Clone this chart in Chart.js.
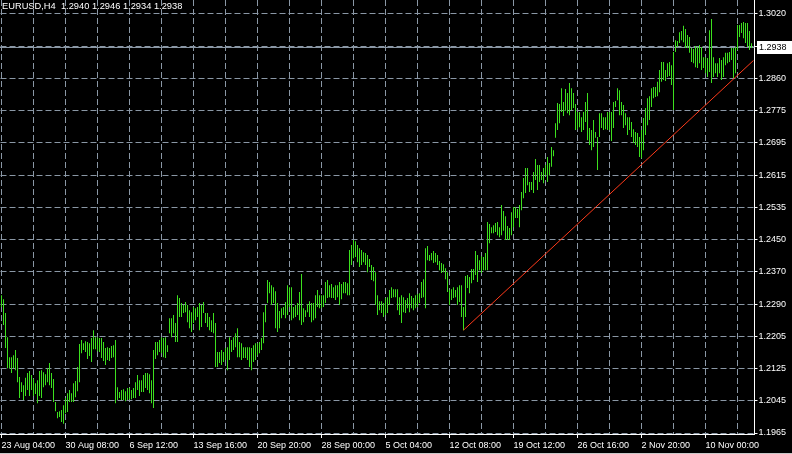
<!DOCTYPE html>
<html>
<head>
<meta charset="utf-8">
<script src="https://cdn.jsdelivr.net/npm/chart.js@4.4.1/dist/chart.umd.min.js"></script>
<style>
  html, body { margin: 0; padding: 0; background: #000; }
  #wrap { position: relative; width: 792px; height: 454px; overflow: hidden; background: #000; }
  #title { position: absolute; left: 2px; top: 0; color: #fff; font: 9.3px 'Liberation Sans', Arial, sans-serif; line-height: 12px; white-space: pre; }
  #edge { position: absolute; left: 0; top: 453px; width: 792px; height: 1px; background: #c8c8c8; }
</style>
</head>
<body>
<div id="wrap">
  <canvas id="chart" width="792" height="454"></canvas>
  <div id="title"></div>
  <div id="edge"></div>
</div>
<script>
// EURUSD H4 bars
const symbol = 'EURUSD,H4';
const lastQuote = [1.2940, 1.2946, 1.2934, 1.2938]; // open, high, low, close

const xTickLabels = ['23 Aug 04:00', '30 Aug 08:00', '6 Sep 12:00', '13 Sep 16:00', '20 Sep 20:00', '28 Sep 00:00',
                     '5 Oct 04:00', '12 Oct 08:00', '19 Oct 12:00', '26 Oct 16:00', '2 Nov 20:00', '10 Nov 00:00'];
const barsPerLabel = 32;
const barsPerGrid = 16;

const yTickLabels = ['1.1965', '1.2045', '1.2125', '1.2205', '1.2290', '1.2370', '1.2450',
                     '1.2535', '1.2615', '1.2695', '1.2775', '1.2860', '1.2940', '1.3020'];
const priceBottom = 1.19625;
const priceTop = 1.30551;

const barHigh = [
  1.2312, 1.2302, 1.2267, 1.2206, 1.2156, 1.2156, 1.2161, 1.2174, 1.2154, 1.2106, 1.2093, 1.2085, 1.2104, 1.2116, 1.2121, 1.2111,
  1.2101, 1.2090, 1.2098, 1.2121, 1.2123, 1.2118, 1.2113, 1.2128, 1.2141, 1.2116, 1.2101, 1.2043, 1.2018, 1.2020, 1.2023, 1.2035,
  1.2053, 1.2065, 1.2073, 1.2065, 1.2090, 1.2096, 1.2131, 1.2189, 1.2199, 1.2191, 1.2196, 1.2194, 1.2191, 1.2204, 1.2224, 1.2206,
  1.2206, 1.2204, 1.2204, 1.2194, 1.2179, 1.2181, 1.2179, 1.2184, 1.2186, 1.2199, 1.2080, 1.2068, 1.2073, 1.2075, 1.2070, 1.2078,
  1.2078, 1.2073, 1.2078, 1.2093, 1.2111, 1.2098, 1.2098, 1.2111, 1.2116, 1.2116, 1.2113, 1.2098, 1.2174, 1.2194, 1.2194, 1.2199,
  1.2206, 1.2204, 1.2206, 1.2186, 1.2254, 1.2254, 1.2262, 1.2242, 1.2312, 1.2305, 1.2292, 1.2287, 1.2295, 1.2287, 1.2274, 1.2269,
  1.2282, 1.2279, 1.2282, 1.2292, 1.2287, 1.2295, 1.2267, 1.2267, 1.2257, 1.2249, 1.2267, 1.2242, 1.2169, 1.2169, 1.2174, 1.2169,
  1.2179, 1.2181, 1.2206, 1.2199, 1.2206, 1.2216, 1.2229, 1.2194, 1.2191, 1.2181, 1.2181, 1.2181, 1.2181, 1.2179, 1.2186, 1.2191,
  1.2191, 1.2194, 1.2204, 1.2269, 1.2287, 1.2350, 1.2345, 1.2337, 1.2332, 1.2322, 1.2292, 1.2272, 1.2279, 1.2282, 1.2295, 1.2337,
  1.2332, 1.2332, 1.2282, 1.2287, 1.2292, 1.2320, 1.2365, 1.2279, 1.2274, 1.2290, 1.2297, 1.2292, 1.2292, 1.2312, 1.2325, 1.2312,
  1.2312, 1.2312, 1.2345, 1.2350, 1.2337, 1.2340, 1.2332, 1.2337, 1.2337, 1.2345, 1.2340, 1.2345, 1.2345, 1.2342, 1.2426, 1.2438,
  1.2451, 1.2448, 1.2438, 1.2430, 1.2426, 1.2420, 1.2418, 1.2413, 1.2403, 1.2388, 1.2383, 1.2370, 1.2312, 1.2297, 1.2297, 1.2292,
  1.2305, 1.2307, 1.2325, 1.2332, 1.2327, 1.2327, 1.2327, 1.2307, 1.2312, 1.2307, 1.2300, 1.2305, 1.2317, 1.2310, 1.2305, 1.2312,
  1.2315, 1.2317, 1.2345, 1.2352, 1.2430, 1.2436, 1.2413, 1.2418, 1.2423, 1.2418, 1.2413, 1.2398, 1.2393, 1.2390, 1.2380, 1.2370,
  1.2325, 1.2327, 1.2332, 1.2325, 1.2332, 1.2337, 1.2337, 1.2282, 1.2360, 1.2363, 1.2358, 1.2378, 1.2378, 1.2423, 1.2413, 1.2400,
  1.2410, 1.2408, 1.2418, 1.2496, 1.2491, 1.2483, 1.2488, 1.2494, 1.2496, 1.2483, 1.2539, 1.2524, 1.2511, 1.2486, 1.2481, 1.2521,
  1.2534, 1.2534, 1.2529, 1.2539, 1.2572, 1.2607, 1.2632, 1.2632, 1.2597, 1.2597, 1.2622, 1.2655, 1.2640, 1.2640, 1.2622, 1.2632,
  1.2640, 1.2660, 1.2645, 1.2685, 1.2677, 1.2745, 1.2796, 1.2793, 1.2833, 1.2798, 1.2831, 1.2821, 1.2846, 1.2833, 1.2821, 1.2793,
  1.2773, 1.2773, 1.2760, 1.2773, 1.2798, 1.2821, 1.2733, 1.2728, 1.2753, 1.2723, 1.2710, 1.2770, 1.2770, 1.2760, 1.2760, 1.2773,
  1.2773, 1.2773, 1.2798, 1.2801, 1.2833, 1.2828, 1.2798, 1.2791, 1.2770, 1.2760, 1.2760, 1.2748, 1.2730, 1.2723, 1.2720, 1.2710,
  1.2728, 1.2758, 1.2783, 1.2808, 1.2813, 1.2833, 1.2836, 1.2836, 1.2849, 1.2879, 1.2899, 1.2899, 1.2879, 1.2896, 1.2899, 1.2891,
  1.2924, 1.2954, 1.2952, 1.2974, 1.2977, 1.2990, 1.2982, 1.2967, 1.2962, 1.2934, 1.2932, 1.2939, 1.2937, 1.2942, 1.2937, 1.2911,
  1.2911, 1.2909, 1.2979, 1.3007, 1.2911, 1.2896, 1.2896, 1.2909, 1.2904, 1.2911, 1.2922, 1.2922, 1.2924, 1.2934, 1.2934, 1.2937,
  1.2992, 1.2992, 1.2997, 1.3000, 1.2997, 1.2997, 1.2977, 1.2946
];

const barLow = [
  1.2282, 1.2237, 1.2179, 1.2128, 1.2128, 1.2116, 1.2128, 1.2123, 1.2093, 1.2053, 1.2068, 1.2048, 1.2058, 1.2073, 1.2058, 1.2073,
  1.2058, 1.2063, 1.2040, 1.2058, 1.2053, 1.2080, 1.2085, 1.2093, 1.2085, 1.2078, 1.2043, 1.2020, 1.2002, 1.2005, 1.1993, 1.1988,
  1.2015, 1.2018, 1.2043, 1.2043, 1.2043, 1.2055, 1.2070, 1.2093, 1.2166, 1.2174, 1.2169, 1.2151, 1.2159, 1.2144, 1.2176, 1.2176,
  1.2171, 1.2169, 1.2154, 1.2146, 1.2136, 1.2149, 1.2146, 1.2154, 1.2156, 1.2040, 1.2048, 1.2053, 1.2048, 1.2048, 1.2045, 1.2048,
  1.2050, 1.2050, 1.2053, 1.2053, 1.2073, 1.2058, 1.2068, 1.2068, 1.2078, 1.2073, 1.2065, 1.2040, 1.2028, 1.2151, 1.2161, 1.2169,
  1.2166, 1.2156, 1.2154, 1.2169, 1.2216, 1.2206, 1.2216, 1.2194, 1.2194, 1.2257, 1.2257, 1.2267, 1.2269, 1.2244, 1.2229, 1.2219,
  1.2242, 1.2249, 1.2257, 1.2224, 1.2232, 1.2267, 1.2242, 1.2232, 1.2224, 1.2219, 1.2216, 1.2131, 1.2131, 1.2141, 1.2136, 1.2144,
  1.2149, 1.2123, 1.2149, 1.2169, 1.2174, 1.2181, 1.2156, 1.2156, 1.2149, 1.2154, 1.2154, 1.2149, 1.2131, 1.2123, 1.2144, 1.2149,
  1.2161, 1.2166, 1.2174, 1.2191, 1.2244, 1.2292, 1.2317, 1.2287, 1.2292, 1.2229, 1.2219, 1.2229, 1.2254, 1.2262, 1.2254, 1.2262,
  1.2282, 1.2249, 1.2254, 1.2257, 1.2262, 1.2249, 1.2237, 1.2244, 1.2257, 1.2269, 1.2257, 1.2244, 1.2249, 1.2254, 1.2282, 1.2279,
  1.2279, 1.2282, 1.2292, 1.2305, 1.2307, 1.2305, 1.2305, 1.2300, 1.2307, 1.2287, 1.2302, 1.2317, 1.2317, 1.2312, 1.2312, 1.2388,
  1.2405, 1.2408, 1.2395, 1.2383, 1.2388, 1.2395, 1.2388, 1.2370, 1.2383, 1.2350, 1.2347, 1.2287, 1.2262, 1.2274, 1.2267, 1.2257,
  1.2262, 1.2267, 1.2287, 1.2305, 1.2307, 1.2307, 1.2274, 1.2262, 1.2242, 1.2269, 1.2267, 1.2279, 1.2269, 1.2279, 1.2274, 1.2279,
  1.2282, 1.2292, 1.2305, 1.2307, 1.2279, 1.2400, 1.2398, 1.2400, 1.2393, 1.2395, 1.2388, 1.2375, 1.2368, 1.2370, 1.2352, 1.2320,
  1.2287, 1.2300, 1.2305, 1.2307, 1.2287, 1.2295, 1.2257, 1.2224, 1.2257, 1.2330, 1.2317, 1.2342, 1.2350, 1.2363, 1.2345, 1.2375,
  1.2368, 1.2375, 1.2375, 1.2375, 1.2443, 1.2468, 1.2468, 1.2471, 1.2463, 1.2458, 1.2463, 1.2474, 1.2451, 1.2451, 1.2451, 1.2463,
  1.2483, 1.2506, 1.2506, 1.2483, 1.2526, 1.2556, 1.2569, 1.2589, 1.2572, 1.2577, 1.2569, 1.2602, 1.2577, 1.2597, 1.2602, 1.2594,
  1.2614, 1.2597, 1.2614, 1.2635, 1.2662, 1.2708, 1.2728, 1.2745, 1.2773, 1.2763, 1.2776, 1.2770, 1.2765, 1.2778, 1.2783, 1.2728,
  1.2730, 1.2735, 1.2723, 1.2728, 1.2748, 1.2702, 1.2690, 1.2677, 1.2685, 1.2708, 1.2627, 1.2710, 1.2733, 1.2728, 1.2730, 1.2728,
  1.2728, 1.2700, 1.2733, 1.2786, 1.2803, 1.2765, 1.2765, 1.2733, 1.2740, 1.2715, 1.2728, 1.2710, 1.2695, 1.2690, 1.2685, 1.2660,
  1.2657, 1.2677, 1.2715, 1.2740, 1.2753, 1.2786, 1.2808, 1.2811, 1.2813, 1.2823, 1.2849, 1.2854, 1.2851, 1.2861, 1.2864, 1.2841,
  1.2778, 1.2924, 1.2937, 1.2947, 1.2954, 1.2949, 1.2934, 1.2934, 1.2922, 1.2899, 1.2896, 1.2886, 1.2884, 1.2896, 1.2879, 1.2884,
  1.2871, 1.2861, 1.2874, 1.2846, 1.2861, 1.2871, 1.2861, 1.2871, 1.2854, 1.2861, 1.2891, 1.2896, 1.2899, 1.2904, 1.2859, 1.2871,
  1.2929, 1.2962, 1.2972, 1.2959, 1.2947, 1.2937, 1.2929, 1.2934
];

// hand-drawn trend line: [bar index, price]
const trendFrom = [231, 1.2224];
const trendTo = [376, 1.2903];

const gridColor = '#8a97a5';
const barColor = '#3ce01e';
const trendColor = '#ff3a1a';

document.getElementById('title').textContent =
  symbol + '  ' + lastQuote.map(v => v.toFixed(4)).join(' ');

const slots = barHigh.length + 1; // one empty slot of chart shift on the right
const labels = [];
for (let i = 0; i < slots; i++) {
  labels.push(i % barsPerLabel === 0 && xTickLabels[i / barsPerLabel] ? xTickLabels[i / barsPerLabel] : '');
}

const ranges = barHigh.map((h, i) => [barLow[i], h]);

const trend = new Array(slots).fill(null);
trend[trendFrom[0]] = trendFrom[1];
trend[trendTo[0]] = trendTo[1];

const yFirst = parseFloat(yTickLabels[0]);
const yLast = parseFloat(yTickLabels[yTickLabels.length - 1]);
const yStep = (yLast - yFirst) / (yTickLabels.length - 1);

const priceMarker = {
  id: 'priceMarker',
  beforeDatasetsDraw(chart) {
    const { ctx, chartArea, scales: { y } } = chart;
    const py = Math.round(y.getPixelForValue(lastQuote[3])) + 0.5;
    ctx.save();
    ctx.strokeStyle = gridColor;
    ctx.lineWidth = 1;
    ctx.beginPath();
    ctx.moveTo(0, py);
    ctx.lineTo(chartArea.right, py);
    ctx.stroke();
    ctx.restore();
  },
  afterDraw(chart) {
    const { ctx, chartArea, scales: { y } } = chart;
    const py = Math.round(y.getPixelForValue(lastQuote[3]));
    ctx.save();
    ctx.fillStyle = '#fff';
    ctx.fillRect(chartArea.right + 2.5, py - 6, 40, 13);
    ctx.fillStyle = '#000';
    ctx.font = "9px 'Liberation Sans'";
    ctx.textBaseline = 'middle';
    ctx.fillText(lastQuote[3].toFixed(4), chartArea.right + 4.5, py + 0.5);
    ctx.restore();
  }
};

Chart.defaults.font.family = "'Liberation Sans', Arial, sans-serif";
Chart.defaults.font.size = 9;
Chart.defaults.color = '#fff';

new Chart(document.getElementById('chart'), {
  type: 'bar',
  data: {
    labels: labels,
    datasets: [{
      type: 'line',
      label: 'Trend',
      data: trend,
      borderColor: trendColor,
      borderWidth: 1,
      pointRadius: 0,
      spanGaps: true,
      order: 0
    }, {
      label: symbol,
      data: ranges,
      backgroundColor: barColor,
      borderWidth: 0,
      barThickness: 1,
      inflateAmount: 0,
      order: 1
    }]
  },
  options: {
    responsive: false,
    animation: false,
    layout: { padding: { left: 0.5, right: 0, top: 0, bottom: 0 }, autoPadding: false },
    plugins: { legend: { display: false }, tooltip: { enabled: false } },
    scales: {
      x: {
        type: 'category',
        offset: true,
        afterBuildTicks: scale => {
          scale.ticks = scale.ticks.filter(t => t.value % barsPerGrid === 0);
        },
        afterFit: scale => {
          scale.height = 20;
          scale.paddingLeft = 0;
          scale.paddingRight = 0;
        },
        grid: {
          offset: false,
          color: gridColor,
          lineWidth: 1,
          tickLength: 4,
          tickColor: ctx => (ctx.tick && ctx.tick.value % barsPerLabel === 0) ? '#fff' : 'rgba(0,0,0,0)'
        },
        border: { display: true, color: '#fff', width: 1, dash: [6, 3] },
        ticks: { autoSkip: false, maxRotation: 0, minRotation: 0, align: 'start', padding: 2, color: '#fff' }
      },
      y: {
        type: 'linear',
        position: 'right',
        min: priceBottom,
        max: priceTop,
        afterBuildTicks: scale => {
          scale.ticks = yTickLabels.map((_, k) => ({ value: yFirst + k * yStep }));
        },
        afterFit: scale => {
          scale.width = 37.5;
          scale.paddingTop = 0;
          scale.paddingBottom = 0;
        },
        grid: { color: gridColor, lineWidth: 1, tickLength: 3, tickColor: '#fff' },
        border: { display: true, color: '#fff', width: 1, dash: [6, 3] },
        ticks: {
          padding: 1,
          color: '#fff',
          callback: (value, index) => yTickLabels[index]
        }
      }
    }
  },
  plugins: [priceMarker]
});
</script>
</body>
</html>
